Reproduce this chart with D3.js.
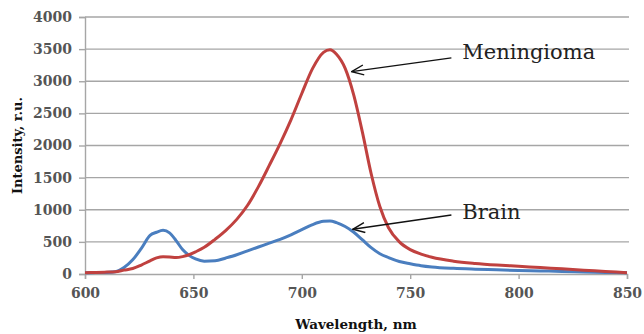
<!DOCTYPE html>
<html>
<head>
<meta charset="utf-8">
<script src="https://cdn.jsdelivr.net/npm/d3@7"></script>
<style>
  html, body { margin: 0; padding: 0; background: #fff; }
  svg { display: block; }
</style>
</head>
<body>
<svg id="chart"></svg>
<script>
  // wavelength, nm
  var wavelengths = [600, 605, 610, 614, 618, 622, 626, 630, 633, 636, 639, 642, 645, 648, 651, 655,
    660, 665, 670, 675, 680, 685, 690, 695, 700, 705, 710, 713, 716, 720, 724, 728, 732, 736,
    740, 745, 750, 755, 760, 770, 780, 790, 800, 810, 820, 830, 840, 850];

  var brain = [20, 22, 25, 35, 100, 220, 400, 600, 650, 680, 640, 520, 380, 290, 235, 200,
    205, 250, 300, 360, 420, 480, 540, 610, 690, 770, 820, 825, 800, 740, 650, 530, 410, 315,
    255, 195, 160, 130, 110, 88, 75, 65, 55, 48, 40, 32, 25, 18];

  var meningioma = [20, 25, 30, 35, 60, 85, 140, 205, 250, 270, 265, 255, 270, 300, 345, 415,
    540, 680, 850, 1070, 1360, 1690, 2030, 2400, 2810, 3200, 3450, 3490, 3420, 3200, 2780, 2200, 1560, 1050,
    720, 500, 380, 310, 260, 200, 165, 140, 120, 100, 80, 60, 40, 20];

  var xTicks = [600, 650, 700, 750, 800, 850];
  var yTicks = [0, 500, 1000, 1500, 2000, 2500, 3000, 3500, 4000];

  // annotations: label position and arrow (from -> to) in data units
  var labels = [
    { text: "Meningioma", x: 774, y: 3350, from: [769, 3364], to: [723, 3150] },
    { text: "Brain", x: 774, y: 857, from: [769, 919], to: [723.5, 696] }
  ];

  var width = 644, height = 334;
  var margin = { top: 17, right: 17, bottom: 60, left: 85 };

  var svg = d3.select("#chart").attr("width", width).attr("height", height);

  var x = d3.scaleLinear().domain([600, 850]).range([margin.left, width - margin.right]);
  var y = d3.scaleLinear().domain([0, 4000]).range([height - margin.bottom, margin.top]);

  // gridlines
  svg.append("g")
    .selectAll("line")
    .data(yTicks.slice(1))
    .enter().append("line")
    .attr("x1", x(600)).attr("x2", x(850) + 2)
    .attr("y1", function (d) { return y(d); })
    .attr("y2", function (d) { return y(d); })
    .attr("stroke", "#a6a6a6")
    .attr("stroke-width", 1.4);

  // y axis
  var yAxis = svg.append("g")
    .attr("transform", "translate(" + x(600) + ",0)")
    .call(d3.axisLeft(y).tickValues(yTicks).tickFormat(d3.format("d")).tickSize(6).tickPadding(7));
  yAxis.select(".domain").attr("stroke", "#a6a6a6").attr("stroke-width", 1.4);
  yAxis.selectAll(".tick line").attr("stroke", "#a6a6a6").attr("stroke-width", 1.4);
  yAxis.selectAll("text")
    .attr("font-family", "DejaVu Serif").attr("font-weight", "bold")
    .attr("font-size", 14).attr("fill", "#555");

  // x axis
  var xAxis = svg.append("g")
    .attr("transform", "translate(0," + y(0) + ")")
    .call(d3.axisBottom(x).tickValues(xTicks).tickFormat(d3.format("d")).tickSize(5).tickPadding(9));
  xAxis.select(".domain").attr("stroke", "#a6a6a6").attr("stroke-width", 1.4);
  xAxis.selectAll(".tick line").attr("stroke", "#a6a6a6").attr("stroke-width", 1.4);
  xAxis.selectAll("text")
    .attr("font-family", "DejaVu Serif").attr("font-weight", "bold")
    .attr("font-size", 14).attr("fill", "#555");

  // axis titles
  svg.append("text")
    .attr("transform", "translate(22," + ((y(0) + y(4000)) / 2) + ") rotate(-90)")
    .attr("text-anchor", "middle")
    .attr("font-family", "DejaVu Serif").attr("font-weight", "bold")
    .attr("font-size", 13).attr("fill", "#111")
    .text("Intensity, r.u.");

  svg.append("text")
    .attr("x", (x(600) + x(850)) / 2)
    .attr("y", 329)
    .attr("text-anchor", "middle")
    .attr("font-family", "DejaVu Serif").attr("font-weight", "bold")
    .attr("font-size", 13.5).attr("fill", "#111")
    .text("Wavelength, nm");

  // curves
  var line = function (values) {
    return d3.line()
      .x(function (d, i) { return x(wavelengths[i]); })
      .y(function (d) { return y(d); })
      .curve(d3.curveMonotoneX)(values);
  };

  svg.append("path")
    .attr("d", line(brain))
    .attr("fill", "none")
    .attr("stroke", "#4a7ebf")
    .attr("stroke-width", 3)
    .attr("stroke-linejoin", "round");

  svg.append("path")
    .attr("d", line(meningioma))
    .attr("fill", "none")
    .attr("stroke", "#c0413f")
    .attr("stroke-width", 3)
    .attr("stroke-linejoin", "round");

  // annotations
  svg.append("defs").append("marker")
    .attr("id", "arrow")
    .attr("viewBox", "-14 -6 15 12")
    .attr("refX", 0).attr("refY", 0)
    .attr("markerWidth", 15).attr("markerHeight", 12)
    .attr("markerUnits", "userSpaceOnUse")
    .attr("orient", "auto")
    .append("path")
    .attr("d", "M-12,-5 L0,0 L-12,5")
    .attr("fill", "none")
    .attr("stroke", "#111")
    .attr("stroke-width", 1.4);

  var ann = svg.append("g").selectAll("g").data(labels).enter().append("g");

  ann.append("line")
    .attr("x1", function (d) { return x(d.from[0]); })
    .attr("y1", function (d) { return y(d.from[1]); })
    .attr("x2", function (d) { return x(d.to[0]); })
    .attr("y2", function (d) { return y(d.to[1]); })
    .attr("stroke", "#111")
    .attr("stroke-width", 1.4)
    .attr("marker-end", "url(#arrow)");

  ann.append("text")
    .attr("x", function (d) { return x(d.x); })
    .attr("y", function (d) { return y(d.y); })
    .attr("font-family", "DejaVu Serif")
    .attr("font-size", 21)
    .attr("fill", "#222")
    .text(function (d) { return d.text; });
</script>
</body>
</html>
